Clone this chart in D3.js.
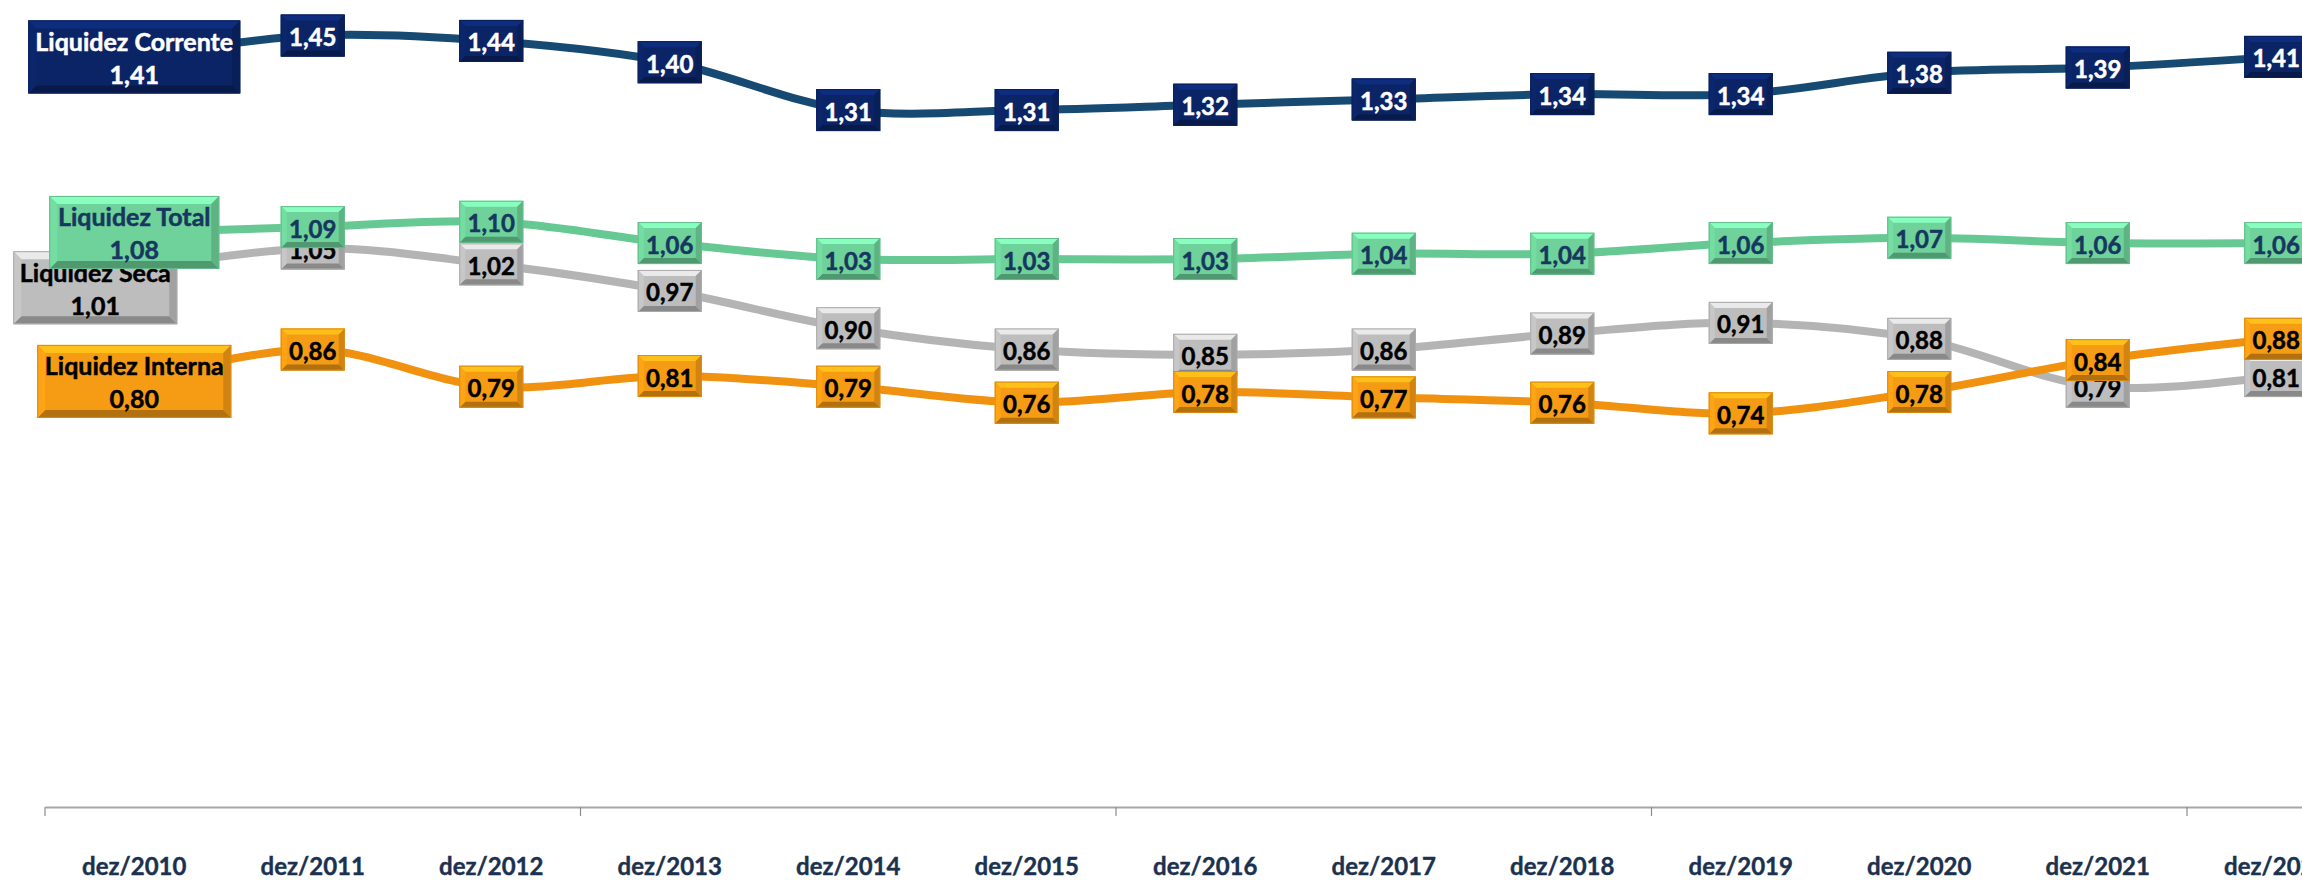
<!DOCTYPE html>
<html>
<head>
<meta charset="utf-8">
<script src="https://cdn.jsdelivr.net/npm/d3@7"></script>
<style>
  body { margin: 0; background: #fff; overflow: hidden; }
  text { font-family: Lato, "Open Sans", sans-serif; font-weight: bold; }
</style>
</head>
<body>
<div id="chart"></div>
<script>
var width = 2302;
var height = 880;

// Data
var categories = ["dez/2010", "dez/2011", "dez/2012", "dez/2013", "dez/2014", "dez/2015", "dez/2016",
  "dez/2017", "dez/2018", "dez/2019", "dez/2020", "dez/2021", "dez/2022"];
var liquidezCorrente = [1.41, 1.45, 1.44, 1.40, 1.31, 1.31, 1.32, 1.33, 1.34, 1.34, 1.38, 1.39, 1.41];
var liquidezTotal = [1.08, 1.09, 1.10, 1.06, 1.03, 1.03, 1.03, 1.04, 1.04, 1.06, 1.07, 1.06, 1.06];
var liquidezSeca = [1.01, 1.05, 1.02, 0.97, 0.90, 0.86, 0.85, 0.86, 0.89, 0.91, 0.88, 0.79, 0.81];
var liquidezInterna = [0.80, 0.86, 0.79, 0.81, 0.79, 0.76, 0.78, 0.77, 0.76, 0.74, 0.78, 0.84, 0.88];

// Series styles, drawn in this order (Seca under the others)
var series = [
  { name: "Liquidez Corrente", values: liquidezCorrente, line: "#164a72", box: "#0b2466", text: "#ffffff", w: 212 },
  { name: "Liquidez Seca", values: liquidezSeca, line: "#b4b4b4", box: "#bdbdbd", text: "#000000", w: 164, dx: -39, dy: 18 },
  { name: "Liquidez Total", values: liquidezTotal, line: "#66c993", box: "#6ed29a", text: "#17375e", w: 170 },
  { name: "Liquidez Interna", values: liquidezInterna, line: "#f0920f", box: "#f59b14", text: "#000000", w: 194 }
];

var margin = { left: 45, axis: 807 };
var catWidth = 178.5;

var svg = d3.select("#chart").append("svg")
  .attr("width", width)
  .attr("height", height);

var x = d3.scaleBand()
  .domain(categories)
  .range([margin.left, margin.left + catWidth * categories.length]);

var y = d3.scaleLinear()
  .domain([0, 1.5])
  .range([margin.axis, 9]);

function cx(i) {
  return x(categories[i]) + x.bandwidth() / 2;
}

// x axis: line + category labels
var xAxis = d3.axisBottom(x).tickSize(0).tickSizeOuter(0);
var gx = svg.append("g")
  .attr("transform", "translate(0," + margin.axis + ")")
  .call(xAxis);
gx.select(".domain").attr("stroke", "#a6a6a6").attr("stroke-width", 2);
gx.selectAll("text")
  .attr("y", 60)
  .attr("dy", "0.35em")
  .attr("fill", "#1b3150")
  .attr("stroke", "#1b3150")
  .attr("stroke-width", 0.4)
  .style("font-size", "24px");

// tick marks every 3 categories, on the band edges
gx.selectAll("line.mark")
  .data(categories.filter(function (d, i) { return i % 3 === 0; }))
  .enter()
  .append("line")
  .attr("class", "mark")
  .attr("x1", function (d) { return x(d); })
  .attr("x2", function (d) { return x(d); })
  .attr("y1", 0)
  .attr("y2", 9)
  .attr("stroke", "#8c8c8c")
  .attr("stroke-width", 1.2);

// smoothed lines
var line = d3.line()
  .x(function (d, i) { return cx(i); })
  .y(function (d) { return y(d); })
  .curve(d3.curveCatmullRom.alpha(0.5));

series.forEach(function (s) {
  svg.append("path")
    .datum(s.values)
    .attr("fill", "none")
    .attr("stroke", s.line)
    .attr("stroke-width", 8)
    .attr("d", line);
});

// beveled box like the Excel data labels
function bevelBox(g, bx, by, w, h, color, b) {
  var c = d3.color(color);
  g.append("rect").attr("x", bx).attr("y", by).attr("width", w).attr("height", h)
    .attr("fill", color);
  var pts = {
    top: [[bx, by], [bx + w, by], [bx + w - b, by + b], [bx + b, by + b]],
    bottom: [[bx, by + h], [bx + w, by + h], [bx + w - b, by + h - b], [bx + b, by + h - b]],
    left: [[bx, by], [bx + b, by + b], [bx + b, by + h - b], [bx, by + h]],
    right: [[bx + w, by], [bx + w - b, by + b], [bx + w - b, by + h - b], [bx + w, by + h]]
  };
  var shades = {
    top: c.brighter(0.6).formatHex(),
    bottom: c.darker(0.9).formatHex(),
    left: c.brighter(0.15).formatHex(),
    right: c.darker(0.45).formatHex()
  };
  Object.keys(pts).forEach(function (k) {
    g.append("polygon")
      .attr("points", pts[k].map(function (p) { return p.join(","); }).join(" "))
      .attr("fill", shades[k]);
  });
  g.append("rect").attr("x", bx + 0.5).attr("y", by + 0.5).attr("width", w - 1).attr("height", h - 1)
    .attr("fill", "none").attr("stroke", c.darker(0.3).formatHex()).attr("stroke-width", 1);
}

function fmt(v) {
  return d3.format(".2f")(v).replace(".", ",");
}

function label(g, tx, ty, txt, color, size) {
  g.append("text")
    .attr("x", tx)
    .attr("y", ty)
    .attr("text-anchor", "middle")
    .attr("dominant-baseline", "central")
    .attr("fill", color)
    .attr("stroke", color)
    .attr("stroke-width", 0.5)
    .style("font-size", size + "px")
    .text(txt);
}

var boxW = 64;
var boxH = 42;

series.forEach(function (s) {
  var g = svg.append("g");

  // value labels (from the 2nd point on)
  s.values.forEach(function (v, i) {
    if (i === 0) return;
    var px = cx(i);
    var py = y(v);
    bevelBox(g, px - boxW / 2, py - boxH / 2, boxW, boxH, s.box, 6);
    label(g, px, py + 1, fmt(v), s.text, 24);
  });

  // series name box on the first point
  var nx = cx(0) + (s.dx || 0);
  var ny = y(s.values[0]) + (s.dy || 0);
  var nh = 73;
  bevelBox(g, nx - s.w / 2, ny - nh / 2, s.w, nh, s.box, 8);
  label(g, nx, ny - 16, s.name, s.text, 25);
  label(g, nx, ny + 17, fmt(s.values[0]), s.text, 25);
});
</script>
</body>
</html>
